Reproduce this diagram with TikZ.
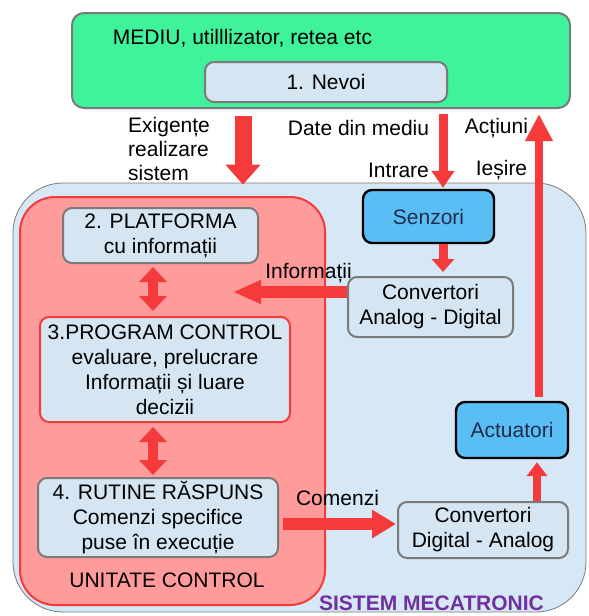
\documentclass[tikz,border=0pt]{standalone}
\usepackage{fontspec}
\setmainfont{Liberation Sans}
\usetikzlibrary{arrows.meta}
\definecolor{mediugreen}{HTML}{3FF39B}
\definecolor{paleblue}{HTML}{D5E5F2}
\definecolor{sysblue}{HTML}{D6E8F5}
\definecolor{salmon}{HTML}{FF9B9B}
\definecolor{arrred}{HTML}{F43A3A}
\definecolor{bordergray}{HTML}{7A7A7A}
\definecolor{senzblue}{HTML}{5ABEF5}
\definecolor{navytext}{HTML}{1F2D4D}
\definecolor{mecpurple}{HTML}{7030A0}

\begin{document}
\begin{tikzpicture}[x=1pt,y=-1pt,
  every node/.style={font=\fontsize{21}{25}\selectfont, inner sep=0pt, align=center},
  bloc/.style={rounded corners=9pt, fill=paleblue, draw=bordergray, line width=2pt},
  senzbloc/.style={rounded corners=9pt, fill=senzblue, draw=black, line width=2.4pt, text=navytext},
  sag/.style n args={3}{draw=arrred, line width=#1, -{Triangle[width=#2,length=#3]}},
  dsag/.style n args={3}{draw=arrred, line width=#1, {Triangle[width=#2,length=#3]}-{Triangle[width=#2,length=#3]}}]
 \useasboundingbox (0,0) rectangle (589,616);
 % mediu
 \node[draw=bordergray, line width=2pt, fill=mediugreen, rounded corners=12pt,
   minimum width=498pt, minimum height=95pt] (mediu) at (321,60.5) {};
 \node (mediutxt) at (242.5,38) {MEDIU, utilllizator, retea etc};
 \node[bloc, minimum width=242pt, minimum height=40pt] (nevoi) at (326,82) {1. Nevoi};
 % sistem
 \node[fill=sysblue, draw=bordergray, line width=0.8pt, rounded corners=50pt,
   minimum width=573pt, minimum height=429pt] (sistem) at (299.5,397.5) {};
 \node[fill=salmon, draw=arrred, line width=2pt, rounded corners=35pt,
   minimum width=305pt, minimum height=408pt] (unitate) at (172.5,401) {};
 \node[bloc, minimum width=195pt, minimum height=55pt] (platforma) at (160.5,235.5) {2. PLATFORMA\\cu informații};
 \node[bloc, draw=arrred, minimum width=250pt, minimum height=105pt] (program) at (165,369.5)
   {3.PROGRAM CONTROL\\evaluare, prelucrare\\Informații și luare\\decizii};
 \node[bloc, minimum width=240pt, minimum height=79pt] (rutine) at (158,517.5)
   {4. RUTINE RĂSPUNS\\Comenzi specifice\\puse în execuție};
 \node (unitxt) at (167,580) {UNITATE CONTROL};
 \node[senzbloc, minimum width=131pt, minimum height=53pt] (senzori) at (428.5,216.5) {Senzori};
 \node[bloc, minimum width=165pt, minimum height=60pt] (cad) at (430.5,307) {Convertori\\Analog - Digital};
 \node[senzbloc, minimum width=112pt, minimum height=56pt] (actuatori) at (512,430) {Actuatori};
 \node[bloc, minimum width=170pt, minimum height=56pt] (cda) at (483,530) {Convertori\\Digital - Analog};
 \node[font=\fontsize{21}{25}\selectfont\bfseries, text=mecpurple] (mectxt) at (431.5,603) {SISTEM MECATRONIC};
 % etichete
 \node[align=left, anchor=west, font=\fontsize{21}{24}\selectfont] (exig) at (128,149) {Exigențe\\realizare\\sistem};
 \node (datetxt) at (358.5,128) {Date din mediu};
 \node (intrtxt) at (398.5,170) {Intrare};
 \node (actxt) at (496.5,128) {Acțiuni};
 \node (iestxt) at (501.5,170) {Ieșire};
 \node (infotxt) at (308.5,273) {Informații};
 \node (comtxt) at (337.5,498) {Comenzi};
 % sageti
 \coordinate (exx) at (243,0);
 \coordinate (dx) at (443,0);
 \coordinate (ax) at (539,0);
 \coordinate (dax) at (537,0);
 \coordinate (dbx) at (153,0);
 \coordinate (cy) at (0,524);
 \coordinate (infoend) at (233,292);
 \draw[sag={17pt}{34pt}{20pt}, shorten <=7pt, shorten >=-2pt] (mediu.south -| exx) -- (sistem.north -| exx);
 \draw[sag={9pt}{22pt}{17pt}, shorten <=5pt, shorten >=1pt] (mediu.south -| dx) -- (senzori.north -| dx);
 \draw[sag={9pt}{22pt}{13pt}, shorten >=4pt] (senzori.south -| dx) -- (cad.north -| dx);
 \draw[sag={8pt}{26pt}{27pt}, shorten <=4pt, shorten >=5pt] (actuatori.north -| ax) -- (mediu.south -| ax);
 \draw[sag={12pt}{22pt}{28pt}] (cad.west |- infoend) -- (infoend);
 \draw[dsag={10pt}{27pt}{15pt}, shorten <=3pt, shorten >=5pt] (platforma.south -| dbx) -- (program.north -| dbx);
 \draw[dsag={10pt}{27pt}{15pt}, shorten <=4pt, shorten >=2pt] (program.south -| dbx) -- (rutine.north -| dbx);
 \draw[sag={12pt}{27pt}{24pt}, shorten <=4pt, shorten >=1pt] (rutine.east |- cy) -- (cda.west |- cy);
 \draw[sag={8pt}{20pt}{14pt}, shorten >=3pt] (cda.north -| dax) -- (actuatori.south -| dax);
\end{tikzpicture}
\end{document}
